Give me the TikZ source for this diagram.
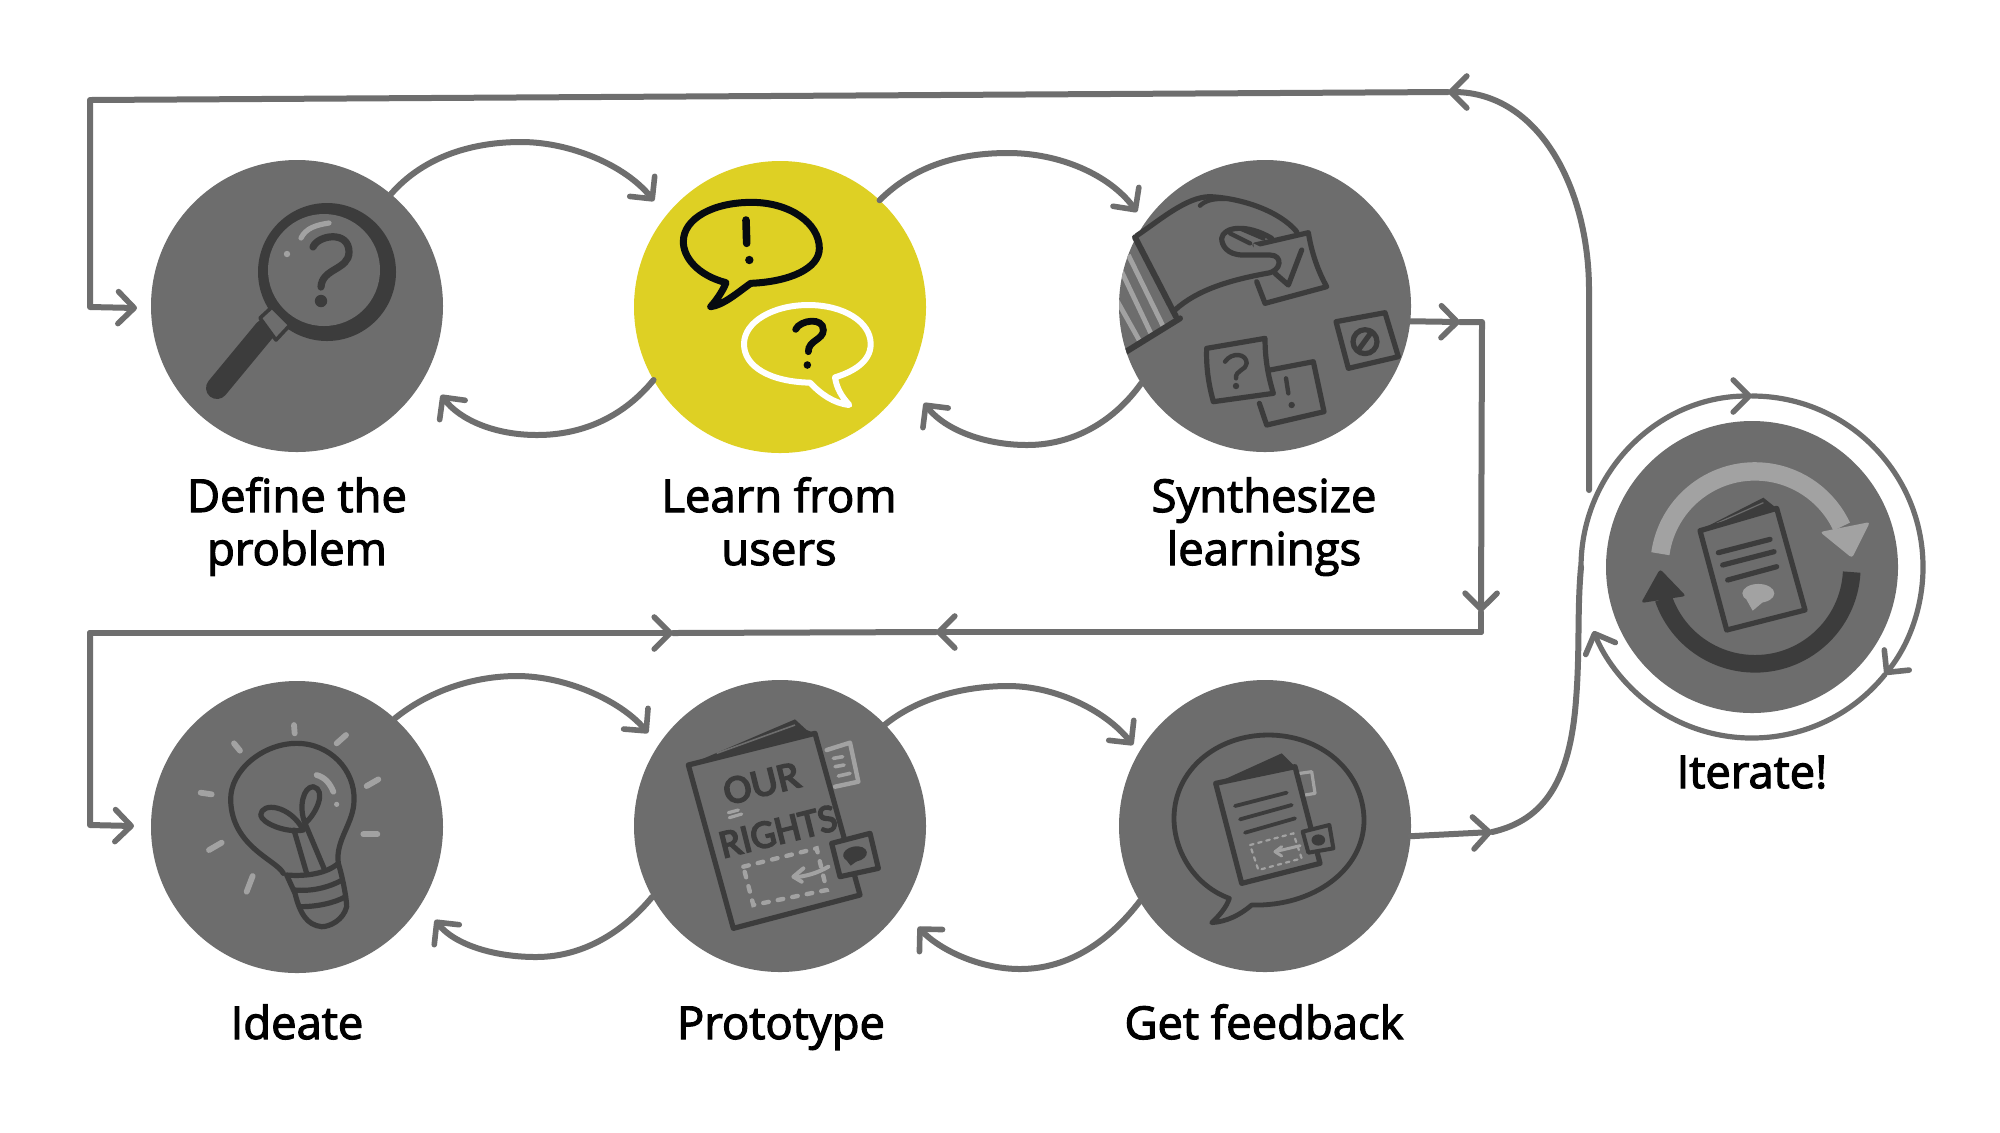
\documentclass[tikz,border=0pt]{standalone}
\usepackage{fontspec}
\usetikzlibrary{arrows.meta,calc}
\setmainfont{Open Sans}
\newfontfamily\lblfont[FakeBold=2.5]{Open Sans}
\newfontfamily\handfont[FakeBold=4]{Carlito}
\definecolor{linegray}{HTML}{6E6E6E}
\definecolor{discgray}{HTML}{6D6D6D}
\definecolor{dk}{HTML}{3C3C3C}
\definecolor{lt}{HTML}{A2A2A2}
\definecolor{yel}{HTML}{DED024}
\definecolor{inkblack}{HTML}{060A10}
\tikzset{
  disc/.style={circle,fill=discgray,minimum size=146pt,inner sep=0pt,outer sep=0pt},
  lbl/.style={font=\lblfont\fontsize{22.7}{26.5}\selectfont,text=black,align=center,anchor=base,inner sep=0pt},
  conn/.style={draw=linegray,line width=3pt,line cap=round,line join=round},
  ringline/.style={draw=linegray,line width=2.6pt,line cap=round},
  barbed/.style={-{Straight Barb[length=8pt,width=16pt,line width=2.8pt,round]}},
  ink/.style={draw=dk,line width=2.6pt,line cap=round,line join=round},
  inkthin/.style={draw=dk,line width=2.2pt,line cap=round,line join=round},
  lite/.style={draw=lt,line width=2.9pt,line cap=round,line join=round},
  dashlite/.style={draw=lt,line width=2.2pt,line cap=round,dash pattern=on 2.8pt off 4.6pt},
  zoomed/.style={x=0.166667pt,y=-0.166667pt},
}
\begin{document}
\begin{tikzpicture}[x=0.5pt,y=-0.5pt]
\useasboundingbox (0,0) rectangle (2000,1132);
\fill[white] (0,0) rectangle (2000,1132);

% discs
\node[disc] (c1) at (297,306) {};
\node[disc,fill=yel] (c2) at (780,307) {};
\node[disc] (c3) at (1265,306) {};
\node[disc] (c4) at (1752,567) {};
\node[disc] (c5) at (297,827) {};
\node[disc] (c6) at (780,826) {};
\node[disc] (c7) at (1265,826) {};

% labels
\node[lbl] (l1) at (297,565) {Define the\\problem};
\node[lbl] (l2) at (779,565) {Learn from\\users};
\node[lbl] (l3) at (1264,565) {Synthesize\\learnings};
\node[lbl] (l4) at (1752,788) {Iterate!};
\node[lbl] (l5) at (297,1039) {Ideate};
\node[lbl] (l6) at (781,1039) {Prototype};
\node[lbl] (l7) at (1264,1039) {Get feedback};

% free ends of connectors
\coordinate (t12) at (654,201);
\coordinate (t21) at (441,395);
\coordinate (t23) at (1137,212);
\coordinate (t32) at (924,403);
\coordinate (t56) at (648,733);
\coordinate (t65) at (435,920);
\coordinate (t67) at (1133,745);
\coordinate (t76) at (918,927);
\coordinate (loopstart) at (1589,490);
\coordinate (topmark) at (1448,92);
\coordinate (topleft) at (90,100);
\coordinate (downleft) at (90,307);
\coordinate (t1in) at (137,308);
\coordinate (outmark) at (1460,322);
\coordinate (outcorner) at (1482,322);
\coordinate (outdown) at (1481,612);
\coordinate (rowcorner) at (1481,632);
\coordinate (rowmark) at (936,632);
\coordinate (rowmid) at (673,633);
\coordinate (rowleft) at (90,633);
\coordinate (rowdown) at (90,825);
\coordinate (t5in) at (134,826);
\coordinate (fbmark) at (1492,832);
\coordinate (ringleft) at ($(c4.center)+(180:85.5pt)$);

% neighbouring arcs
\draw[conn,barbed] (c1.50) .. controls (425,155) and (475,142) .. (521,142) .. controls (570,142) and (625,165) .. (t12);
\draw[conn,barbed] (c2.210) .. controls (625,415) and (585,435) .. (537,435) .. controls (495,435) and (460,420) .. (t21);
\draw[conn,barbed] (c2.47) .. controls (915,165) and (960,153) .. (1008,153) .. controls (1060,153) and (1110,175) .. (t23);
\draw[conn,barbed] (c3.212) .. controls (1115,420) and (1075,445) .. (1027,445) .. controls (985,445) and (945,430) .. (t32);
\draw[conn,barbed] (c5.48) .. controls (430,690) and (475,676) .. (517,676) .. controls (565,676) and (620,700) .. (t56);
\draw[conn,barbed] (c6.209) .. controls (625,930) and (585,957) .. (536,957) .. controls (495,957) and (455,945) .. (t65);
\draw[conn,barbed] (c6.44) .. controls (915,700) and (960,686) .. (1008,686) .. controls (1055,686) and (1105,710) .. (t67);
\draw[conn,barbed] (c7.211) .. controls (1110,940) and (1070,969) .. (1020,969) .. controls (980,969) and (940,950) .. (t76);

% long loops
\draw[conn,barbed] (loopstart) -- (1589,290) .. controls (1589,190) and (1540,92) .. (topmark);
\draw[conn,barbed] (topmark) -- (topleft) -- (downleft) -- (t1in);
\draw[conn,barbed] (c3.354) -- (outmark);
\draw[conn,barbed] (outmark) -- (outcorner) -- (outdown);
\draw[conn] (outdown) -- (rowcorner);
\draw[conn,barbed] (rowcorner) -- (rowmark);
\draw[conn] (rowmark) -- (rowmid);
\draw[conn,barbed] (rowleft) -- (rowmid);
\draw[conn,barbed] (rowleft) -- (rowdown) -- (t5in);
\draw[conn,barbed] (c7.356) -- (fbmark);
\draw[conn] (fbmark) .. controls (1545,820) and (1570,780) .. (1576,700) .. controls (1580,650) and (1577,610) .. (ringleft);

% ring round the last disc
\draw[ringline,barbed] (ringleft) arc[start angle=180,end angle=90,radius=85.5pt] coordinate (ringtop);
\draw[ringline,barbed] (ringtop) arc[start angle=90,end angle=-39,radius=85.5pt] coordinate (ringright);
\draw[ringline,barbed] (ringright) arc[start angle=-39,end angle=-158,radius=85.5pt];

% icon 1: magnifier
\draw[dk,line width=11pt,line cap=round] (217,388) -- (265,330);
\fill[dk] (327,272) circle[radius=34.5pt];
\fill[discgray] (324,270) circle[radius=28pt];
\draw[fill=discgray,draw=dk,line width=1.8pt,line join=round] (260,318) -- (272,307) -- (290,325) -- (276,340) -- cycle;
\draw[dk,line width=3.6pt,line cap=round] (313,247) .. controls (318,235) and (349,230) .. (349,252) .. controls (349,270) and (322,268) .. (321,287);
\fill[dk] (321,301) circle[radius=3.1pt];
\draw[lt,line width=2.6pt,line cap=round] (301,238) .. controls (306,228) and (316,225) .. (329,223);
\fill[lt] (287,254) circle[radius=1.6pt];

% icon 2: speech bubbles
\begin{scope}[shift={(310pt,-70pt)},zoomed]
\draw[inkblack,line width=3.5pt,line join=round] (318,428) .. controls (230,405) and (190,350) .. (190,305) .. controls (190,235) and (280,187) .. (395,187) .. controls (510,187) and (598,250) .. (598,325) .. controls (598,385) and (510,425) .. (392,430) .. controls (350,460) and (310,495) .. (272,500) .. controls (290,480) and (310,450) .. (318,428) -- cycle;
\draw[inkblack,line width=3.8pt,line cap=round] (378,240) -- (380,310);
\fill[inkblack] (388,360) circle[radius=2.1pt];
\draw[white,line width=3pt,line join=round] (570,728) .. controls (450,725) and (372,680) .. (372,612) .. controls (372,545) and (460,495) .. (565,495) .. controls (670,495) and (752,545) .. (752,612) .. controls (752,665) and (700,695) .. (645,712) .. controls (650,745) and (665,770) .. (688,795) .. controls (640,790) and (600,760) .. (570,728) -- cycle;
\draw[inkblack,line width=3.4pt,line cap=round] (527,568) .. controls (540,540) and (610,530) .. (610,570) .. controls (610,600) and (565,600) .. (565,635);
\fill[inkblack] (562,675) circle[radius=1.9pt];
\end{scope}

% icon 3: hand and notes
\begin{scope}[shift={(550pt,-70pt)},zoomed]
\begin{scope}
\clip (c3.center) circle[radius=73pt];
\draw[lt,line width=2.4pt] (85,345) -- (190,560);
\draw[lt,line width=2.4pt] (65,395) -- (155,585);
\draw[lt,line width=2.4pt] (50,480) -- (120,605);
\draw[ink,line width=3pt] (240,535) -- (70,640);
\end{scope}
\draw[ink,line width=3pt] (105,292) -- (228,530);
\draw[ink] (110,287) .. controls (180,240) and (260,170) .. (330,170) .. controls (430,175) and (540,215) .. (590,275);
\draw[inkthin] (300,197) .. controls (315,182) and (340,175) .. (375,177);
\draw[ink] (465,315) -- (625,278) .. controls (635,340) and (655,395) .. (680,440) -- (495,490) -- (470,425);
\draw[ink] (525,400) -- (565,435) -- (605,330);
\draw[fill=discgray,draw=none] (460,310) -- (530,345) -- (545,390) -- (470,405) -- cycle;
\draw[ink] (225,510) .. controls (290,450) and (390,420) .. (500,400) .. controls (545,395) and (550,345) .. (510,345) -- (430,345) .. controls (380,345) and (365,315) .. (365,295) .. controls (370,260) and (440,250) .. (515,295);
\draw[inkthin] (390,280) -- (450,310);
\draw[inkthin] (420,265) -- (490,295);
\draw[ink] (510,690) -- (640,665) -- (672,815) -- (500,855) -- (478,790);
\draw[inkthin] (558,715) -- (565,760);
\fill[dk] (575,795) circle[radius=1.6pt];
\draw[ink] (320,625) -- (495,595) .. controls (495,660) and (505,710) .. (520,760) -- (340,785) .. controls (325,730) and (318,680) .. (320,625) -- cycle;
\draw[inkthin] (375,665) .. controls (395,635) and (440,640) .. (440,670) .. controls (440,690) and (405,690) .. (408,715);
\fill[dk] (408,738) circle[radius=1.6pt];
\draw[ink] (708,545) -- (855,518) -- (895,650) -- (745,685) -- cycle;
\draw[ink,line width=2.6pt] (795,605) circle[radius=6pt];
\draw[ink] (775,630) -- (815,575);
\end{scope}

% icon 4: iterate
\draw[lt,line width=9.2pt] ($(1755,567)+(172:47.8pt)$) arc[start angle=172,end angle=25,radius=47.8pt];
\fill[lt,rounded corners=1.5pt] (1820,532) -- (1870,522) -- (1852,558) -- cycle;
\draw[dk,line width=8.8pt] ($(1755,567)+(-3:48.4pt)$) arc[start angle=-3,end angle=-161,radius=48.4pt];
\fill[dk,rounded corners=1.5pt] (1660,569) -- (1686,596) -- (1641,603) -- cycle;
\begin{scope}[shift={(785pt,-190pt)},zoomed]
\fill[dk] (390,450) -- (580,353) -- (620,385) -- cycle;
\draw[discgray,line width=.6pt] (440,430) -- (580,368);
\draw[ink,fill=discgray] (390,452) -- (620,385) -- (705,690) -- (470,750) -- cycle;
\draw[dk,line width=2.6pt,line cap=round] (445,518) -- (600,478);
\draw[dk,line width=2.6pt,line cap=round] (458,555) -- (612,515);
\draw[dk,line width=2.6pt,line cap=round] (473,600) -- (620,560);
\fill[lt] (565,640) ellipse[x radius=8pt,y radius=4.7pt];
\fill[lt] (530,660) -- (548,692) -- (580,665) -- cycle;
\end{scope}

% icon 5: bulb
\begin{scope}[shift={(65pt,-330pt)},zoomed]
\foreach \ax/\ay/\bx/\by in {492/195/494/220,620/250/648/225,312/250/330/272,710/378/745/358,212/398/245/403,700/523/742/523,237/570/275/548,350/695/368/648}
  \draw[lite] (\ax,\ay) -- (\bx,\by);
\draw[lite] (560,345) .. controls (585,352) and (600,370) .. (610,395);
\fill[lt] (620,433) circle[radius=1.3pt];
\draw[ink] (460,640) .. controls (440,600) and (305,560) .. (302,420) .. controls (300,330) and (400,250) .. (500,250) .. controls (600,250) and (675,330) .. (672,420) .. controls (672,490) and (615,540) .. (625,610);
\draw[ink] (470,645) .. controls (530,650) and (590,640) .. (625,610) .. controls (640,660) and (650,720) .. (650,740) .. controls (640,780) and (600,800) .. (575,800) .. controls (530,795) and (510,760) .. (495,700) -- (470,645);
\draw[ink] (495,690) .. controls (550,695) and (600,680) .. (637,660);
\draw[ink] (510,740) .. controls (560,740) and (610,730) .. (647,710);
\draw[ink] (492,510) -- (530,640);
\draw[ink] (525,490) -- (582,625);
\draw[ink] (520,510) .. controls (470,520) and (395,490) .. (392,465) .. controls (395,425) and (480,435) .. (520,510);
\draw[ink] (525,490) .. controls (505,440) and (520,380) .. (550,380) .. controls (590,390) and (560,460) .. (525,490);
\end{scope}

% icon 6: booklet
\begin{scope}[shift={(310pt,-335pt)},zoomed]
\draw[lite,line width=2.2pt] (620,240) -- (690,218) -- (715,335) -- (645,350);
\draw[lite,line width=1.8pt] (640,265) -- (668,260);
\draw[lite,line width=1.8pt] (645,290) -- (672,285);
\draw[lite,line width=1.8pt] (655,318) -- (690,310);
\fill[dk] (205,285) -- (525,148) -- (560,180) -- (585,190) -- cycle;
\draw[discgray,line width=.8pt] (290,250) -- (525,165);
\draw[ink,fill=discgray] (205,285) -- (585,190) -- (720,675) -- (340,775) -- cycle;
\node[font=\handfont\fontsize{20}{20}\selectfont,text=dk,rotate=14,xscale=1.05,inner sep=0pt] (our) at (425,340) {OUR};
\node[font=\handfont\fontsize{20}{20}\selectfont,text=dk,rotate=14,inner sep=0pt] (rights) at (474,484) {RIGHTS};
\draw[lite,line width=1.6pt] (325,428) -- (355,420);
\draw[lite,line width=1.6pt] (328,443) -- (365,432);
\draw[dashlite] (370,590) -- (590,535) -- (620,660) -- (400,705) -- cycle;
\draw[lite,line width=2pt] (625,590) .. controls (590,610) and (560,618) .. (525,622);
\draw[lite,line width=2pt] (550,595) -- (520,620) -- (545,635);
\draw[ink,fill=discgray] (635,520) -- (750,490) -- (775,595) -- (660,620) -- cycle;
\fill[dk,rotate around={10:(705,552)}] (705,552) ellipse[x radius=6pt,y radius=3.8pt];
\fill[dk] (675,565) -- (692,587) -- (715,570) -- cycle;
\end{scope}

% icon 7: feedback bubble
\begin{scope}[shift={(550pt,-335pt)},zoomed]
\draw[ink,line width=2.4pt] (388,685) .. controls (290,650) and (222,550) .. (222,445) .. controls (222,300) and (350,195) .. (505,195) .. controls (660,195) and (790,300) .. (792,450) .. controls (792,600) and (640,710) .. (455,705) .. controls (420,735) and (380,755) .. (335,758) .. controls (360,735) and (380,710) .. (388,685) -- cycle;
\draw[lite,line width=1.6pt] (600,310) -- (635,305) -- (645,370) -- (615,375);
\fill[dk] (347,340) -- (545,250) -- (565,270) -- (585,290) -- cycle;
\draw[ink,fill=discgray] (347,340) -- (585,290) -- (660,580) -- (425,640) -- cycle;
\draw[dk,line width=1.9pt,line cap=round] (405,408) -- (560,368);
\draw[dk,line width=1.9pt,line cap=round] (420,448) -- (575,405);
\draw[dk,line width=1.9pt,line cap=round] (435,488) -- (585,445);
\draw[dashlite,line width=1.1pt,dash pattern=on 1.8pt off 2.4pt] (450,525) -- (580,490) -- (605,565) -- (475,600) -- cycle;
\draw[lite,line width=1.5pt] (600,527) -- (525,545);
\draw[lite,line width=1.5pt] (545,530) -- (525,545) -- (545,558);
\draw[ink,fill=discgray,line width=2pt] (608,485) -- (688,465) -- (700,535) -- (625,548) -- cycle;
\fill[dk] (655,510) ellipse[x radius=3.4pt,y radius=2.8pt];
\end{scope}
\end{tikzpicture}
\end{document}
